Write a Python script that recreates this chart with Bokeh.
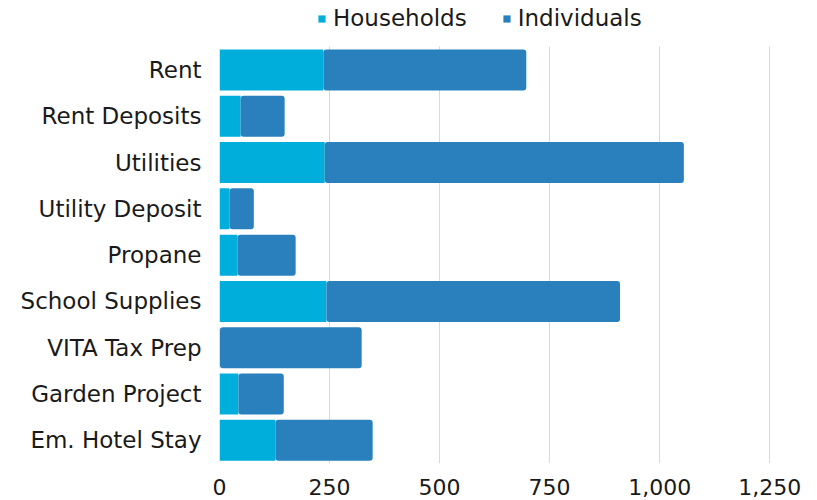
from bokeh.plotting import figure
from bokeh.models import Legend, LegendItem, NumeralTickFormatter, FixedTicker, Range1d, FactorRange
from bokeh.embed import file_html
from bokeh.resources import INLINE

categories = ["Rent", "Rent Deposits", "Utilities", "Utility Deposit", "Propane",
              "School Supplies", "VITA Tax Prep", "Garden Project", "Em. Hotel Stay"]
households = [236, 48, 239, 23, 41, 243, 1, 43, 127]
individuals = [461, 100, 816, 55, 132, 667, 322, 103, 221]
tick_values = [0, 250, 500, 750, 1000, 1250]
series_names = ["Households", "Individuals"]

FONT = "DejaVu Sans"
C_H = "#00aedc"
C_I = "#2980bd"
TXT = "#1a1a1a"

data = dict(cat=categories, Households=households, Individuals=individuals)

# an empty top slot holds the legend
factors = list(reversed(categories)) + [" "]

p = figure(width=817, height=500, y_range=FactorRange(factors=factors),
           x_range=Range1d(0, 1320), output_backend="svg", toolbar_location=None,
           min_border_left=219, min_border_right=17, min_border_bottom=37, min_border_top=0)

rs = p.hbar_stack(series_names, y="cat", height=0.885,
                  color=[C_H, C_I], source=data, line_width=0)
rs[1].glyph.border_radius = 3

p.outline_line_color = None
p.ygrid.grid_line_color = None
p.xgrid.grid_line_color = "#d9d9d9"
p.xgrid.grid_line_width = 1
g = p.xgrid[0]
if "cross_bounds" in g.properties():
    g.cross_bounds = (0, len(categories))

p.xaxis.ticker = FixedTicker(ticks=tick_values)
p.xaxis.formatter = NumeralTickFormatter(format="0,0")
for ax in (p.xaxis[0], p.yaxis[0]):
    ax.axis_line_color = None
    ax.major_tick_line_color = None
    ax.minor_tick_line_color = None
    ax.major_label_text_font = FONT
    ax.major_label_text_color = TXT
p.xaxis.major_label_text_font_size = "22px"
p.yaxis.major_label_text_font_size = "23px"
p.xaxis.major_label_standoff = 9
p.yaxis.major_label_standoff = 12

legend = Legend(items=[LegendItem(label=series_names[0], renderers=[rs[0]]),
                       LegendItem(label=series_names[1], renderers=[rs[1]])],
                orientation="horizontal", location=(98, 432),
                glyph_width=9, glyph_height=9, label_standoff=7, spacing=35,
                label_text_font=FONT, label_text_font_size="23px",
                label_text_color=TXT, border_line_color=None,
                background_fill_alpha=0, padding=6, margin=0)
p.add_layout(legend, "center")

open("out.html", "w").write(file_html(p, INLINE))
